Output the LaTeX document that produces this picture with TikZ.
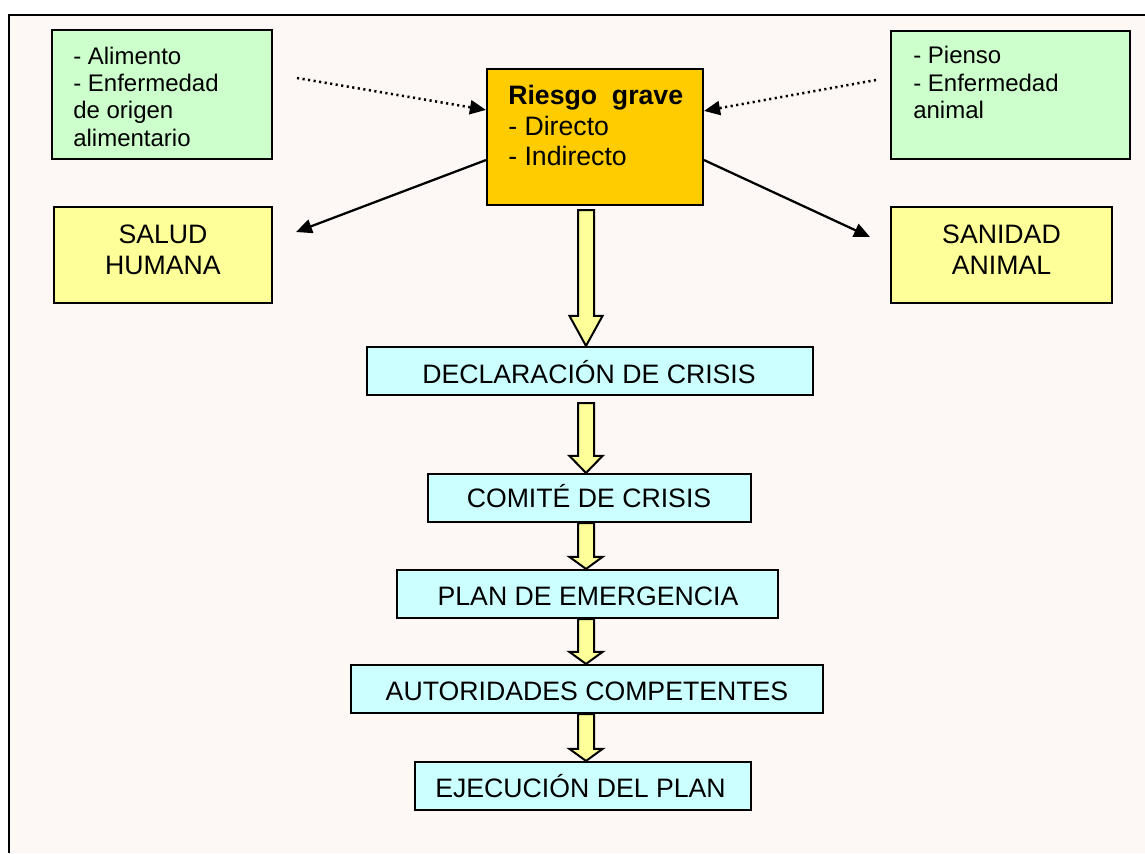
\documentclass[tikz,border=0pt]{standalone}
\usepackage{fontspec}
\setmainfont{Liberation Sans}
\usetikzlibrary{calc,fit,arrows.meta}
\definecolor{bgc}{RGB}{253,248,245}
\definecolor{gbox}{RGB}{204,255,204}
\definecolor{ybox}{RGB}{255,255,153}
\definecolor{cbox}{RGB}{204,255,255}
\definecolor{obox}{RGB}{255,204,0}
\newcommand\blockarr[3]{%
  \draw[blk] ($(#1)+(-8,0)$) -- ($(#2)+(-8,-#3)$) -- ($(#2)+(-16.5,-#3)$) -- (#2)
    -- ($(#2)+(16.5,-#3)$) -- ($(#2)+(8,-#3)$) -- ($(#1)+(8,0)$) -- cycle;}
\begin{document}
\begin{tikzpicture}[x=0.75pt,y=-0.75pt,
  box/.style={draw=black,line width=1.6pt,inner sep=0pt},
  big/.style={font=\fontsize{20}{23}\selectfont,inner sep=0pt},
  small/.style={font=\fontsize{18}{20.5}\selectfont,inner sep=0pt,anchor=base west},
  blk/.style={draw=black,line width=1.5pt,fill=ybox,line join=miter},
  solidarr/.style={line width=1.7pt,-{Triangle[length=12pt,width=10.5pt]}},
  dotarr/.style={line width=1.9pt,dash pattern=on 1.6pt off 2.6pt,-{Triangle[length=12pt,width=10.5pt]}}]
\useasboundingbox (0,0) rectangle (1145,853);
\fill[bgc] (9,15) rectangle (1145,853);
\draw[line width=1.6pt] (1145,15) -- (9,15) -- (9,853);

% top boxes
\node[box,fill=gbox,fit={(52,30) (272,159)}] (food) {};
\node[box,fill=gbox,fit={(891,31) (1130,159)}] (feed) {};
\node[box,fill=obox,fit={(487,69) (703,205)}] (risk) {};
\node[box,fill=ybox,fit={(54,207) (272,303)}] (human) {};
\node[box,fill=ybox,fit={(891,207) (1112,303)}] (animal) {};

\node[small] at (73,64) {- Alimento};
\node[small] at (73,91) {- Enfermedad};
\node[small] at (73,118) {de origen};
\node[small] at (73,146) {alimentario};

\node[small] at (913,63) {- Pienso};
\node[small] at (913,91) {- Enfermedad};
\node[small] at (913,118) {animal};

\node[big,anchor=base west,font=\fontsize{20}{23}\selectfont\bfseries] at (508,104) {Riesgo\ \ grave};
\node[big,anchor=base west] at (508,135) {- Directo};
\node[big,anchor=base west] at (508,165) {- Indirecto};

\node[big,anchor=base] at (163,243) {SALUD};
\node[big,anchor=base] at (163,274) {HUMANA};
\node[big,anchor=base] at (1001.5,243) {SANIDAD};
\node[big,anchor=base] at (1001.5,274) {ANIMAL};

% flow boxes
\node[box,fill=cbox,fit={(367,347) (813,395)}] (decl) {};
\node[box,fill=cbox,fit={(428,474) (751,522)}] (comite) {};
\node[box,fill=cbox,fit={(397,570) (778,618)}] (plan) {};
\node[box,fill=cbox,fit={(351,665) (823,713)}] (aut) {};
\node[box,fill=cbox,fit={(415,762) (751,810)}] (ejec) {};

\node[big,anchor=base] at (589,383) {DECLARACIÓN DE CRISIS};
\node[big,anchor=base] at (589,507) {COMITÉ DE CRISIS};
\node[big,anchor=base] at (588,605) {PLAN DE EMERGENCIA};
\node[big,anchor=base] at (587,700) {AUTORIDADES COMPETENTES};
\node[big,anchor=base] at (580.5,797) {EJECUCIÓN DEL PLAN};

% block arrows
\coordinate (ax) at (586,0);
\coordinate (a1s) at ($(ax |- risk.south)+(0,4)$);
\coordinate (a1e) at (ax |- decl.north);
\coordinate (a2s) at ($(ax |- decl.south)+(0,7)$);
\coordinate (a2e) at (ax |- comite.north);
\coordinate (a3s) at (ax |- comite.south);
\coordinate (a3e) at (ax |- plan.north);
\coordinate (a4s) at (ax |- plan.south);
\coordinate (a4e) at (ax |- aut.north);
\coordinate (a5s) at (ax |- aut.south);
\coordinate (a5e) at (ax |- ejec.north);
\blockarr{a1s}{a1e}{30}
\blockarr{a2s}{a2e}{17}
\blockarr{a3s}{a3e}{12}
\blockarr{a4s}{a4e}{12}
\blockarr{a5s}{a5e}{12}

% dotted arrows
\coordinate (dl) at (297,78);
\coordinate (dr) at (876,80);
\draw[dotarr] (dl) -- ($(risk.north west)+(0,42)$);
\draw[dotarr] (dr) -- ($(risk.north east)+(0,43)$);

% solid arrows
\coordinate (sl) at (296,232);
\coordinate (sr) at (870,237);
\draw[solidarr] ($(risk.south west)+(0,-46)$) -- (sl);
\draw[solidarr] ($(risk.south east)+(0,-46)$) -- (sr);
\end{tikzpicture}
\end{document}
